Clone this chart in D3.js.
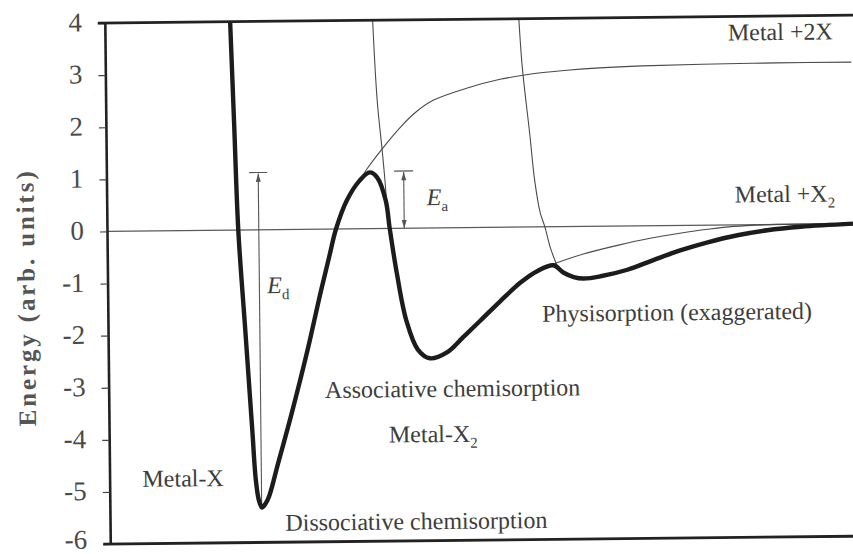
<!DOCTYPE html>
<html><head><meta charset="utf-8">
<script src="https://cdn.jsdelivr.net/npm/d3@7"></script>
<style>html,body{margin:0;padding:0;background:#fff;} svg{display:block;}</style>
</head><body>
<svg id="chart" width="853" height="554"></svg>
<script>
// ---- data (distance in arb. units 0..100, energy in arb. units) ----
const yTicks = [4, 3, 2, 1, 0, -1, -2, -3, -4, -5, -6];
const yLabel = "Energy (arb. units)";

// thick envelope (actual adsorption path)
const totalCurve = [
  [16.8, 4.0], [17.2, 2.0], [17.6, 0.0], [18.4, -1.93], [19.2, -3.85], [19.6, -4.8],
  [20.0, -5.2], [20.4, -5.33], [20.9, -5.25], [21.4, -5.1], [22.6, -4.49], [24.5, -3.53],
  [26.8, -2.27], [28.4, -1.3], [29.8, -0.5], [30.7, 0.0], [32.2, 0.55], [33.9, 0.92],
  [35.3, 1.08], [36.3, 0.98], [37.4, 0.54], [37.9, 0.0], [38.8, -0.87], [40.0, -1.77],
  [41.5, -2.33], [43.1, -2.5], [45.4, -2.39], [47.6, -2.1], [49.9, -1.79], [52.6, -1.42],
  [55.4, -1.06], [57.6, -0.85], [59.8, -0.74], [61.1, -0.88], [62.5, -0.97], [63.8, -1.0],
  [66.1, -0.96], [69.7, -0.84], [73.2, -0.66], [76.8, -0.48], [80.5, -0.33], [84.5, -0.2],
  [88.5, -0.11], [93.0, -0.05], [100, 0.0]
];
// Metal-X potential continuing to Metal + 2X
const metalXThin = [
  [33.9, 0.92], [35.0, 1.16], [37.0, 1.53], [39.4, 1.93], [41.5, 2.22], [43.9, 2.45],
  [48.5, 2.68], [52.9, 2.84], [57.3, 2.94], [61.9, 3.0], [66.3, 3.04], [72.0, 3.07],
  [80.0, 3.09], [90.0, 3.1], [100, 3.1]
];
// Metal-X2 repulsive wall
const metalX2Wall = [[35.9, 4.0], [36.4, 2.46], [37.0, 1.5], [37.3, 0.98], [37.5, 0.55]];
// Physisorption repulsive wall
const physWall = [
  [55.5, 4.0], [55.9, 3.06], [56.8, 1.79], [57.4, 0.89], [58.1, 0.27], [58.7, 0.0],
  [59.4, -0.40], [60.2, -0.72]
];
// Metal-X2 tail towards Metal + X2
const metalX2Tail = [
  [59.9, -0.71], [63.8, -0.53], [68.4, -0.37], [72.8, -0.24], [76.8, -0.15],
  [80.5, -0.08], [84.0, -0.03], [90, 0.0], [100, 0.0]
];
const barrierE = 1.1;
const wellMinE = -5.33;
const eaR = 39.85;
const edR = 20.35;

// ---- layout ----
const svg = d3.select("#chart");
const W = 853, H = 554;
const mLeft = 107, mRight = 853, mTop = 23, mBottom = 544;
const x = d3.scaleLinear().domain([0, 100]).range([mLeft, mRight]);
const y = d3.scaleLinear().domain([-6, 4]).range([mBottom, mTop]);
const serif = "'Liberation Serif', 'Times New Roman', serif";

svg.append("rect").attr("width", W).attr("height", H).attr("fill", "#fff");

const defs = svg.append("defs");
defs.append("clipPath").attr("id", "plotclip").append("rect")
  .attr("x", mLeft).attr("y", mTop).attr("width", 900).attr("height", mBottom - mTop);
defs.append("marker").attr("id", "arr").attr("viewBox", "0 0 10 6")
  .attr("refX", 10).attr("refY", 3).attr("markerWidth", 9).attr("markerHeight", 5)
  .attr("markerUnits", "userSpaceOnUse").attr("orient", "auto-start-reverse")
  .append("path").attr("d", "M0,0 L10,3 L0,6 Z").attr("fill", "#555");

const g = svg.append("g").attr("transform", `rotate(-0.6, 109, ${y(0)})`);
const plot = g.append("g").attr("clip-path", "url(#plotclip)");

const line = d3.line().x(d => x(d[0])).y(d => y(d[1])).curve(d3.curveCatmullRom.alpha(0.5));

// zero line
plot.append("line").attr("x1", mLeft).attr("x2", mRight + 20).attr("y1", y(0)).attr("y2", y(0))
  .attr("stroke", "#5a5a5a").attr("stroke-width", 1.3);

// thin curves
[metalXThin, metalX2Wall, physWall, metalX2Tail].forEach(c => {
  plot.append("path").datum(c).attr("d", line).attr("fill", "none")
    .attr("stroke", "#4a4a4a").attr("stroke-width", 1.1);
});

// energy arrows
function vArrow(r, e0, e1, capHalf, startArrow) {
  const gg = plot.append("g").attr("stroke", "#555").attr("stroke-width", 1.1);
  gg.append("line").attr("x1", x(r)).attr("x2", x(r)).attr("y1", y(e0)).attr("y2", y(e1) + 1)
    .attr("marker-end", "url(#arr)")
    .attr("marker-start", startArrow ? "url(#arr)" : null);
  gg.append("line").attr("x1", x(r) - capHalf).attr("x2", x(r) + capHalf)
    .attr("y1", y(e1)).attr("y2", y(e1));
}
vArrow(eaR, 0, barrierE, 9.5, true);
vArrow(edR, wellMinE, barrierE, 9, false);

// thick envelope
plot.append("path").datum(totalCurve).attr("d", line).attr("fill", "none")
  .attr("stroke", "#1c1c1c").attr("stroke-width", 4.4).attr("stroke-linejoin", "round");

// frame
const axis = d3.axisLeft(y).tickValues(yTicks).tickSize(7).tickSizeOuter(0).tickPadding(16)
  .tickFormat(d3.format("d"));
const ax = g.append("g").attr("transform", `translate(${mLeft},0)`).call(axis);
ax.attr("font-family", serif);
ax.select(".domain").attr("stroke", "#222").attr("stroke-width", 2.6);
ax.selectAll(".tick line").attr("stroke", "#444").attr("stroke-width", 1.2);
ax.selectAll(".tick text").attr("font-family", serif)
  .attr("font-size", 27).attr("fill", "#4a4a4a")
  .attr("dy", d => d === -6 ? "0.14em" : "0.28em")
  .text(d => d < 0 ? "-" + Math.abs(d) : d);

g.append("line").attr("x1", mLeft - 7).attr("x2", mRight + 20).attr("y1", y(4)).attr("y2", y(4))
  .attr("stroke", "#222").attr("stroke-width", 2.8);
g.append("line").attr("x1", mLeft - 7).attr("x2", mRight + 20).attr("y1", y(-6)).attr("y2", y(-6))
  .attr("stroke", "#222").attr("stroke-width", 2.8);

// y label
g.append("text").attr("transform", `translate(34, 298) rotate(-90)`)
  .attr("text-anchor", "middle")
  .attr("font-family", serif)
  .attr("font-weight", "bold").attr("font-size", 25).attr("fill", "#555")
  .attr("textLength", 255).attr("lengthAdjust", "spacing")
  .text(yLabel);

// annotations
function label(px, py, parts) {
  const t = g.append("text").attr("x", px).attr("y", py)
    .attr("font-family", serif).attr("font-size", 24).attr("fill", "#3d3d3d");
  parts.forEach(p => {
    const s = t.append("tspan").text(p.t);
    if (p.sub) s.attr("font-size", 15).attr("dy", 6);
    if (p.it) s.attr("font-style", "italic");
  });
  return t;
}
label(x(83.5), y(3.54), [{t: "Metal +2X"}]);
label(x(84.2), y(0.43), [{t: "Metal +X"}, {t: "2", sub: true}]);
label(x(42.9), y(0.44), [{t: "E", it: true}, {t: "a", sub: true}]);
label(x(21.4), y(-1.22), [{t: "E", it: true}, {t: "d", sub: true}]);
label(x(58.2), y(-1.82), [{t: "Physisorption (exaggerated)"}]);
label(x(29.0), y(-3.24), [{t: "Associative chemisorption"}]);
label(x(37.5), y(-4.11), [{t: "Metal-X"}, {t: "2", sub: true}]);
label(x(23.5), y(-5.78), [{t: "Dissociative chemisorption"}]);
label(x(4.4), y(-4.91), [{t: "Metal-X"}]);
</script>
</body></html>
